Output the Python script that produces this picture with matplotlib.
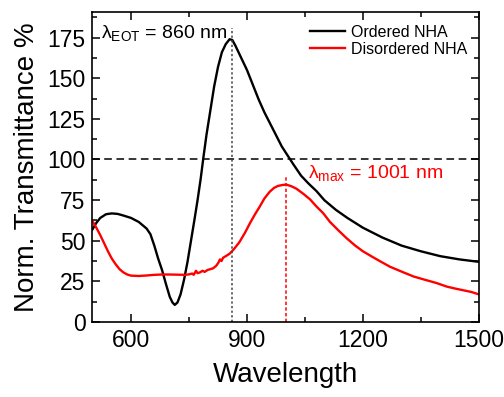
import matplotlib
matplotlib.use("Agg")
import matplotlib.pyplot as plt
from matplotlib.ticker import MultipleLocator, AutoMinorLocator

plt.rcParams['font.family'] = ['Liberation Sans', 'DejaVu Sans']
plt.rcParams['mathtext.fontset'] = 'custom'
plt.rcParams['mathtext.rm'] = 'Liberation Sans'
plt.rcParams['mathtext.it'] = 'Liberation Sans:italic'

# Ordered nanohole array spectrum
ordered_wl = [500, 510, 520, 535, 550, 565, 580, 600, 620, 640, 650, 660, 670, 680,
              690, 700, 707, 713, 720, 728, 737, 746, 755, 764, 772, 780, 787, 795,
              805, 815, 825, 835, 845, 855, 862, 870, 880, 890, 900, 915, 930, 945,
              960, 975, 990, 1005, 1020, 1040, 1060, 1080, 1100, 1130, 1160, 1200,
              1250, 1300, 1350, 1400, 1450, 1500]
ordered_t = [57, 61, 64, 66.3, 66.8, 66.5, 65.5, 64, 61.5, 57.5, 54, 47, 39, 32,
             23.5, 15.5, 12, 10.5, 12, 17, 26, 37, 50, 63, 75, 88, 101, 115,
             130, 145, 157, 166, 171, 174, 173.5, 170, 165, 160, 155, 146, 137, 129,
             122, 115, 108, 102.5, 97, 90, 85, 80.5, 75, 69, 64, 58,
             52, 47, 43.5, 40.5, 38.5, 37]

# Disordered nanohole array spectrum
disordered_wl = [500, 510, 520, 530, 540, 550, 560, 570, 580, 590, 600, 620, 640, 660,
                 680, 700, 720, 740, 750, 758, 762, 768, 772, 778, 785, 790, 798, 805,
                 812, 820, 826, 830, 834, 838, 845, 855, 865, 880, 895, 907, 920, 933,
                 945, 959, 970, 980, 992, 1002, 1015, 1028, 1045, 1063, 1080, 1097,
                 1115, 1136, 1158, 1180, 1200, 1225, 1245, 1270, 1300, 1331, 1360,
                 1390, 1418, 1440, 1460, 1480, 1500]
disordered_t = [62, 58, 53.5, 48.5, 43.5, 39, 35.5, 32.5, 30.5, 29.2, 28.5, 28.3, 28.6, 29,
                29.2, 29.2, 29.1, 29.0, 29.3, 29.8, 29.0, 31.5, 30, 30.5, 31.5, 30.8, 32, 32.5,
                33, 34.5, 36.5, 38.5, 37.5, 39.5, 40.5, 42, 44.5, 49, 55, 60.5, 66, 71,
                76, 80.2, 82.5, 83.7, 84.3, 84.5, 83.5, 82, 79, 75.5, 71, 67,
                61.5, 56.5, 51.5, 47, 43.5, 40, 37.3, 34, 31, 28, 26,
                24, 21.7, 20.5, 19.5, 18.5, 17]

eot_wl = 860
max_wl = 1001

fig = plt.figure(figsize=(5.04, 3.97), dpi=100)
ax = fig.add_axes([0.1835, 0.189, 0.7665, 0.781])

ax.plot(ordered_wl, ordered_t, color='black', lw=1.7, label='Ordered NHA')
ax.plot(disordered_wl, disordered_t, color='red', lw=1.7, label='Disordered NHA')

ax.axhline(100, color='black', lw=1.1, linestyle=(0, (5, 3)))
ax.plot([eot_wl, eot_wl], [0, 181], color='#444444', lw=1.1, linestyle=(0, (1.5, 1.5)))
ax.plot([max_wl, max_wl], [0, 90], color='red', lw=1.1, linestyle=(0, (2.2, 1.5)))

ax.text(521, 178, 'λ$_{\\mathrm{EOT}}$ = 860 nm', fontsize=14, color='black',
        ha='left', va='center')
ax.text(1057, 91.5, 'λ$_{\\mathrm{max}}$ = 1001 nm', fontsize=14, color='red',
        ha='left', va='center')

ax.set_xlim(500, 1500)
ax.set_ylim(0, 190.8)
ax.xaxis.set_major_locator(MultipleLocator(300))
ax.xaxis.set_minor_locator(AutoMinorLocator(2))
ax.yaxis.set_major_locator(MultipleLocator(25))
ax.yaxis.set_minor_locator(AutoMinorLocator(2))
ax.set_xticks([600, 900, 1200, 1500])

ax.tick_params(which='both', direction='in', top=True, right=True, width=1.1)
ax.tick_params(which='major', length=6, labelsize=16.5, pad=5)
ax.tick_params(which='minor', length=3.5)
for s in ax.spines.values():
    s.set_linewidth(1.2)

ax.set_xlabel('Wavelength', fontsize=20, labelpad=7)
ax.set_ylabel('Norm. Transmittance %', fontsize=20, labelpad=5)

ax.legend(loc='upper right', bbox_to_anchor=(1.0, 0.995), frameon=False, fontsize=11.5,
          handlelength=2.2, handletextpad=0.4, labelspacing=0.15, borderaxespad=0.3)

fig.savefig('out.png', dpi=100)
